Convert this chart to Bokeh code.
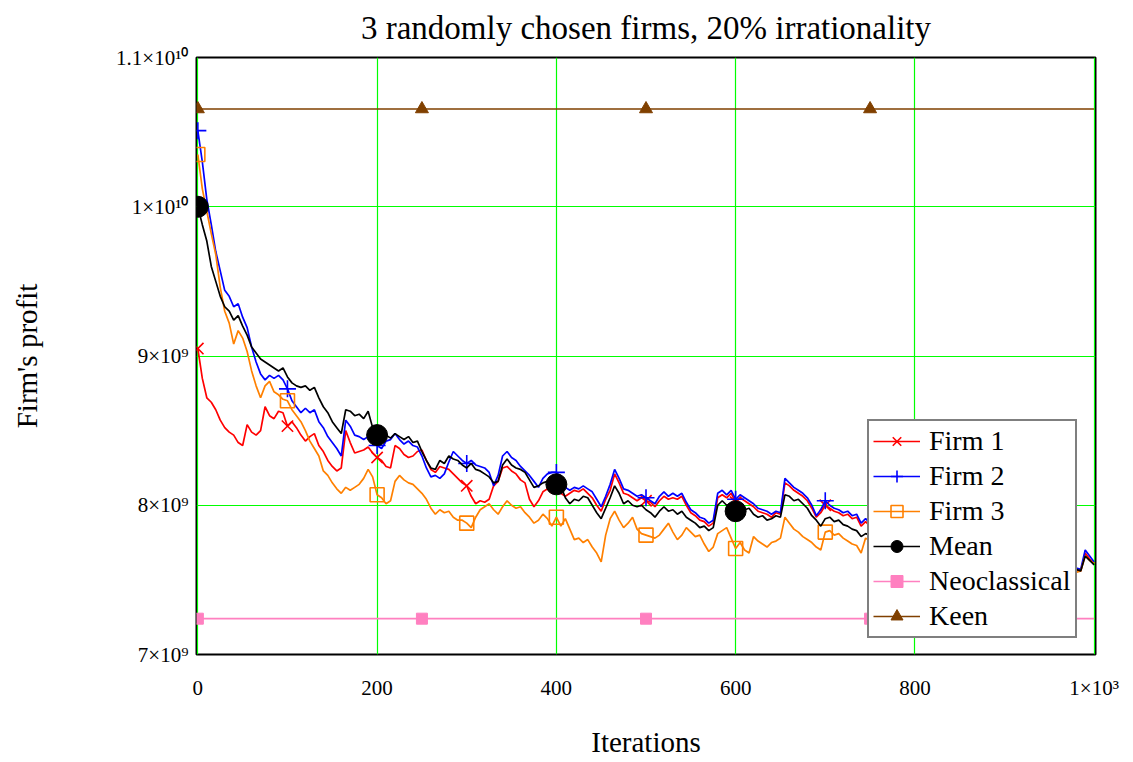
import numpy as np
from bokeh.plotting import figure
from bokeh.models import Range1d, FixedTicker, Legend, LegendItem
from bokeh.embed import file_html
from bokeh.resources import INLINE

# ---------------- data (profits in units of 1e9) ----------------
iterations = list(range(0, 1001, 5))

firm1 = [
    9.05, 8.85, 8.72, 8.69, 8.64, 8.57, 8.52, 8.49, 8.47, 8.42,
    8.40, 8.54, 8.49, 8.47, 8.50, 8.66, 8.60, 8.58, 8.63, 8.62,
    8.53, 8.56, 8.52, 8.47, 8.43, 8.46, 8.48, 8.40, 8.36, 8.30,
    8.26, 8.23, 8.25, 8.50, 8.42, 8.35, 8.36, 8.37, 8.39, 8.35,
    8.32, 8.30, 8.26, 8.25, 8.40, 8.38, 8.34, 8.32, 8.33, 8.36,
    8.37, 8.30, 8.24, 8.22, 8.26, 8.25, 8.24, 8.21, 8.18, 8.15,
    8.13, 8.06, 8.01, 8.03, 8.02, 8.04, 8.13, 8.16, 8.25, 8.26,
    8.23, 8.21, 8.17, 8.15, 8.04, 7.99, 8.03, 8.09, 8.11, 8.08,
    8.13, 8.08, 8.06, 8.08, 8.10, 8.09, 8.11, 8.08, 8.05, 8.00,
    7.96, 8.04, 8.10, 8.21, 8.15, 8.08, 8.07, 8.05, 8.03, 8.05,
    8.03, 8.02, 7.99, 8.03, 8.06, 8.04, 8.05, 8.04, 8.06, 8.00,
    7.95, 7.93, 7.90, 7.89, 7.86, 7.88, 8.05, 8.07, 8.05, 8.08,
    8.02, 8.05, 8.03, 8.01, 7.99, 7.96, 7.95, 7.94, 7.92, 7.95,
    7.94, 8.15, 8.13, 8.10, 8.08, 8.06, 8.03, 7.98, 7.92, 7.95,
    8.00, 7.98, 7.96, 7.95, 7.93, 7.94, 7.91, 7.92, 7.86, 7.89,
    7.86, 7.83, 7.84, 7.81, 7.82, 7.79, 7.80, 7.78, 7.79, 7.76,
    7.77, 7.75, 7.77, 7.74, 7.75, 7.73, 7.74, 7.72, 7.73, 7.71,
    7.72, 7.70, 7.71, 7.69, 7.70, 7.68, 7.69, 7.67, 7.68, 7.66,
    7.67, 7.65, 7.66, 7.64, 7.65, 7.63, 7.64, 7.62, 7.63, 7.61,
    7.62, 7.60, 7.61, 7.59, 7.58, 7.57, 7.56, 7.56, 7.68, 7.64,
    7.61,
]

firm2 = [
    10.51, 10.30, 10.05, 9.88, 9.70, 9.57, 9.44, 9.40, 9.33, 9.35,
    9.26, 9.19, 9.06, 8.96, 8.88, 8.84, 8.87, 8.85, 8.87, 8.84,
    8.78, 8.70, 8.66, 8.62, 8.65, 8.62, 8.64, 8.56, 8.52, 8.46,
    8.42, 8.38, 8.33, 8.57, 8.53, 8.47, 8.46, 8.44, 8.46, 8.42,
    8.40, 8.38, 8.43, 8.44, 8.48, 8.44, 8.41, 8.43, 8.40, 8.39,
    8.33, 8.25, 8.19, 8.20, 8.18, 8.21, 8.29, 8.36, 8.33, 8.30,
    8.28, 8.30, 8.27, 8.26, 8.25, 8.22, 8.13, 8.20, 8.33, 8.36,
    8.32, 8.30, 8.26, 8.23, 8.20, 8.16, 8.12, 8.18, 8.21, 8.22,
    8.22, 8.19, 8.12, 8.10, 8.12, 8.11, 8.13, 8.11, 8.09, 8.04,
    7.99, 8.06, 8.14, 8.24, 8.18, 8.11, 8.10, 8.08, 8.06, 8.07,
    8.05, 8.03, 8.01, 8.06, 8.09, 8.06, 8.08, 8.06, 8.08, 8.02,
    7.97, 7.95, 7.92, 7.91, 7.88, 7.90, 8.08, 8.10, 8.07, 8.10,
    8.04, 8.07, 8.05, 8.03, 8.01, 7.98, 7.97, 7.96, 7.94, 7.96,
    7.95, 8.18, 8.15, 8.12, 8.10, 8.08, 8.05, 8.00, 7.93, 7.97,
    8.03, 8.00, 7.98, 7.97, 7.95, 7.96, 7.93, 7.94, 7.88, 7.91,
    7.88, 7.85, 7.86, 7.83, 7.84, 7.81, 7.82, 7.80, 7.81, 7.78,
    7.79, 7.77, 7.79, 7.76, 7.77, 7.75, 7.76, 7.74, 7.75, 7.73,
    7.74, 7.72, 7.73, 7.71, 7.72, 7.70, 7.71, 7.69, 7.70, 7.68,
    7.69, 7.67, 7.68, 7.66, 7.67, 7.65, 7.66, 7.64, 7.65, 7.63,
    7.64, 7.62, 7.63, 7.61, 7.60, 7.59, 7.58, 7.57, 7.70, 7.66,
    7.62,
]

firm3 = [
    10.35, 10.12, 9.97, 9.82, 9.68, 9.46, 9.30, 9.22, 9.08, 9.17,
    9.12, 9.03, 8.90, 8.80, 8.72, 8.80, 8.83, 8.76, 8.74, 8.71,
    8.70, 8.64, 8.60, 8.56, 8.50, 8.43, 8.38, 8.33, 8.23, 8.20,
    8.15, 8.11, 8.08, 8.12, 8.10, 8.12, 8.14, 8.18, 8.24, 8.19,
    8.07, 8.05, 8.01, 8.03, 8.16, 8.20, 8.17, 8.15, 8.14, 8.11,
    8.08, 8.04, 7.98, 7.94, 7.97, 7.95, 7.96, 7.92, 7.90, 7.90,
    7.88, 7.85, 7.92, 7.97, 7.99, 8.01, 7.97, 7.94, 7.99, 8.03,
    8.00, 7.98, 7.99, 7.95, 7.92, 7.88, 7.90, 7.94, 7.91, 7.86,
    7.92, 7.86, 7.91, 7.84, 7.77, 7.78, 7.75, 7.77, 7.72, 7.68,
    7.62, 7.80, 7.91, 7.96, 7.90, 7.85, 7.88, 7.92, 7.84, 7.81,
    7.80, 7.79, 7.78, 7.80, 7.84, 7.88, 7.82, 7.77, 7.80, 7.85,
    7.82, 7.79, 7.80, 7.74, 7.69, 7.72, 7.81, 7.83, 7.85, 7.78,
    7.71, 7.75, 7.70, 7.68, 7.79, 7.76, 7.74, 7.72, 7.75, 7.76,
    7.78, 7.92, 7.88, 7.84, 7.82, 7.79, 7.77, 7.75, 7.72, 7.70,
    7.82, 7.83, 7.80, 7.81, 7.78, 7.76, 7.74, 7.73, 7.68, 7.78,
    7.76, 7.74, 7.75, 7.72, 7.73, 7.71, 7.72, 7.70, 7.71, 7.69,
    7.70, 7.68, 7.69, 7.67, 7.68, 7.66, 7.67, 7.65, 7.66, 7.64,
    7.65, 7.63, 7.64, 7.62, 7.63, 7.61, 7.62, 7.60, 7.61, 7.59,
    7.60, 7.58, 7.59, 7.57, 7.58, 7.56, 7.57, 7.55, 7.56, 7.54,
    7.55, 7.56, 7.54, 7.55, 7.53, 7.54, 7.55, 7.56, 7.66, 7.63,
    7.61,
]

mean = [
    10.00, 9.88, 9.77, 9.60, 9.50, 9.40, 9.33, 9.30, 9.24, 9.27,
    9.20, 9.14, 9.06, 9.02, 8.98, 8.96, 8.94, 8.92, 8.90, 8.92,
    8.86, 8.82, 8.80, 8.79, 8.80, 8.77, 8.79, 8.72, 8.66, 8.62,
    8.56, 8.52, 8.48, 8.64, 8.63, 8.60, 8.61, 8.58, 8.63, 8.52,
    8.47, 8.44, 8.47, 8.45, 8.48, 8.46, 8.44, 8.46, 8.42, 8.43,
    8.36, 8.30, 8.25, 8.24, 8.30, 8.28, 8.33, 8.31, 8.30, 8.27,
    8.25, 8.28, 8.24, 8.23, 8.21, 8.19, 8.15, 8.16, 8.27, 8.31,
    8.27, 8.25, 8.24, 8.22, 8.17, 8.12, 8.13, 8.15, 8.16, 8.14,
    8.14, 8.13, 8.05, 8.01, 8.04, 8.03, 8.06, 8.05, 8.00, 7.95,
    7.91, 7.98, 8.05, 8.13, 8.08, 8.01, 8.03, 8.00, 7.99, 8.00,
    7.97, 7.95, 7.92, 7.96, 7.99, 7.96, 7.97, 7.94, 7.96, 7.92,
    7.90, 7.88, 7.85, 7.86, 7.83, 7.85, 8.00, 8.03, 8.00, 8.01,
    7.96, 7.99, 7.97, 7.98, 7.94, 7.92, 7.93, 7.90, 7.91, 7.93,
    7.92, 8.07, 8.06, 8.03, 8.04, 8.01, 7.98, 7.93, 7.90, 7.86,
    7.91, 7.92, 7.89, 7.90, 7.87, 7.86, 7.84, 7.83, 7.79, 7.81,
    7.80, 7.78, 7.79, 7.76, 7.77, 7.74, 7.75, 7.73, 7.74, 7.71,
    7.72, 7.70, 7.72, 7.69, 7.70, 7.68, 7.69, 7.67, 7.68, 7.66,
    7.67, 7.65, 7.66, 7.64, 7.65, 7.63, 7.64, 7.62, 7.63, 7.61,
    7.62, 7.60, 7.61, 7.59, 7.60, 7.58, 7.59, 7.57, 7.58, 7.56,
    7.57, 7.58, 7.56, 7.57, 7.55, 7.56, 7.57, 7.56, 7.66, 7.63,
    7.60,
]

neoclassical_value = 7.24
keen_value = 10.655

firm_marker_iters = [0, 100, 200, 300, 400, 500, 600, 700, 800, 900]
mean_marker_iters = [0, 200, 400, 600, 800]
const_marker_iters = [0, 250, 500, 750]

x_ticks = [0, 200, 400, 600, 800, 1000]
x_tick_labels = ["0", "200", "400", "600", "800", "1×10³"]
y_ticks = [7, 8, 9, 10, 11]
y_tick_labels = ["7×10⁹", "8×10⁹", "9×10⁹", "1×10¹⁰", "1.1×10¹⁰"]

title_text = "3 randomly chosen firms, 20% irrationality"
x_label = "Iterations"
y_label = "Firm's profit"

# ---------------- plot ----------------
FONT = "Liberation Serif"
it = np.array(iterations)

p = figure(width=1125, height=760, output_backend="svg", toolbar_location=None,
           x_range=Range1d(-1.5, 1001.5), y_range=Range1d(7, 11),
           min_border_left=196, min_border_right=30, min_border_top=57,
           min_border_bottom=105, background_fill_color="white",
           border_fill_color="white")

p.title.text = title_text
p.title.align = "center"
p.title.vertical_align = "top"
p.title.text_font = FONT
p.title.text_font_size = "33px"
p.title.text_font_style = "normal"
p.title.text_color = "black"
p.title.standoff = 19

for ax in (p.xaxis[0], p.yaxis[0]):
    ax.major_tick_line_color = None
    ax.minor_tick_line_color = None
    ax.axis_line_color = None
    ax.major_label_text_font = FONT
    ax.major_label_text_font_size = "21px"
    ax.major_label_text_color = "black"
    ax.axis_label_text_font = FONT
    ax.axis_label_text_font_size = "29px"
    ax.axis_label_text_font_style = "normal"
    ax.axis_label_text_color = "black"

p.xaxis.ticker = FixedTicker(ticks=x_ticks)
p.xaxis.major_label_overrides = dict(zip(x_ticks, x_tick_labels))
p.xaxis.major_label_standoff = 15
p.xaxis.axis_label = x_label
p.xaxis.axis_label_standoff = 23

p.yaxis.ticker = FixedTicker(ticks=y_ticks)
p.yaxis.major_label_overrides = dict(zip(y_ticks, y_tick_labels))
p.yaxis.major_label_standoff = 2
p.yaxis.axis_label = y_label
p.yaxis.axis_label_standoff = 70

p.xgrid.grid_line_color = "#00ff00"
p.ygrid.grid_line_color = "#00ff00"
p.xgrid.grid_line_width = 1.2
p.ygrid.grid_line_width = 1.2

p.outline_line_color = "black"
p.outline_line_width = 2
p.outline_line_alpha = 1

def markers(iters, series):
    idx = [iterations.index(i) for i in iters]
    return [iters, [series[k] for k in idx]]

items = []
specs = [
    ("Firm 1", firm1, "#ff0000", "x", 16, firm_marker_iters),
    ("Firm 2", firm2, "#0000ff", "cross", 17, firm_marker_iters),
    ("Firm 3", firm3, "#ff8000", "square", 14, firm_marker_iters),
]
for name, ser, col, mk, sz, miters in specs:
    lr = p.line(it, ser, line_color=col, line_width=1.7)
    mx, my = markers(miters, ser)
    sr = p.scatter(mx, my, marker=mk, size=sz, line_color=col, line_width=1.6,
                   fill_alpha=0)
    items.append(LegendItem(label=name, renderers=[lr, sr]))

lr = p.line(it, mean, line_color="black", line_width=1.7)
mx, my = markers(mean_marker_iters, mean)
sr = p.scatter(mx, my, marker="circle", size=21, line_color="black",
               fill_color="black")
items.append(LegendItem(label="Mean", renderers=[lr, sr]))

neo = [neoclassical_value] * len(iterations)
lr = p.line(it, neo, line_color="#ff80c0", line_width=1.7)
mx, my = markers(const_marker_iters, neo)
sr = p.scatter(mx, my, marker="square", size=11, line_color="#ff80c0",
               fill_color="#ff80c0")
items.append(LegendItem(label="Neoclassical", renderers=[lr, sr]))

keen = [keen_value] * len(iterations)
lr = p.line(it, keen, line_color="#804000", line_width=1.7)
mx, my = markers(const_marker_iters, keen)
sr = p.scatter(mx, my, marker="triangle", size=13, line_color="#804000",
               fill_color="#804000")
items.append(LegendItem(label="Keen", renderers=[lr, sr]))

legend = Legend(items=items, location=(671, 16),
                label_text_font=FONT, label_text_font_size="28px",
                label_text_color="black", border_line_color="black",
                border_line_width=2, background_fill_color="white",
                background_fill_alpha=1, glyph_width=47, glyph_height=30,
                label_height=30, spacing=3, padding=4, margin=0,
                label_standoff=9)
p.add_layout(legend)

open("out.html", "w").write(file_html(p, INLINE))
